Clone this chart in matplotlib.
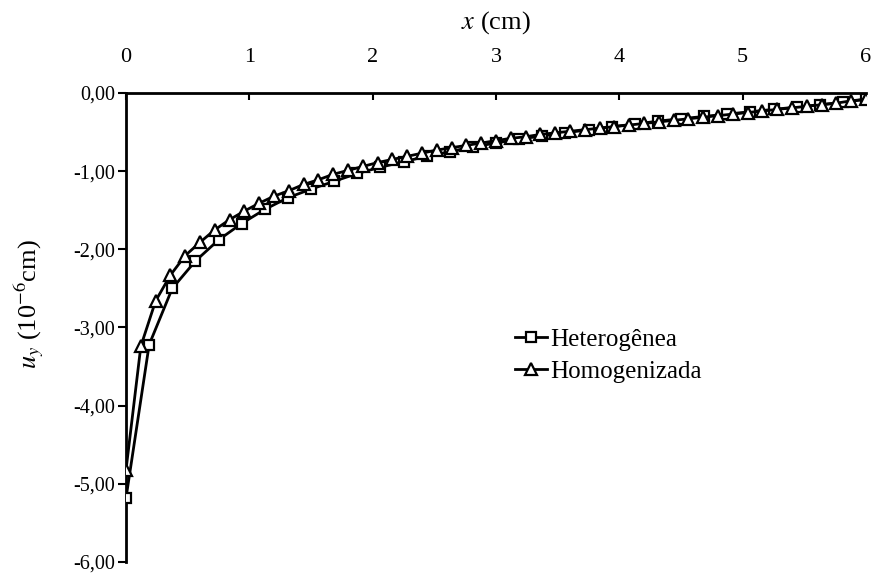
import matplotlib
matplotlib.use("Agg")
import matplotlib.pyplot as plt

plt.rcParams['font.family'] = ['Liberation Serif', 'DejaVu Serif']
plt.rcParams['mathtext.fontset'] = 'stix'

# Heterogênea (squares)
x_het = [0.0, 0.1875, 0.375, 0.5625, 0.75, 0.9375, 1.125, 1.3125, 1.5, 1.6875,
         1.875, 2.0625, 2.25, 2.4375, 2.625, 2.8125, 3.0, 3.1875, 3.375, 3.5625,
         3.75, 3.9375, 4.125, 4.3125, 4.5, 4.6875, 4.875, 5.0625, 5.25, 5.4375,
         5.625, 5.8125, 6.0]
y_het = [-5.18, -3.22, -2.50, -2.15, -1.88, -1.67, -1.49, -1.34, -1.23, -1.13,
         -1.03, -0.95, -0.88, -0.81, -0.75, -0.69, -0.64, -0.59, -0.55, -0.51,
         -0.47, -0.43, -0.40, -0.36, -0.33, -0.30, -0.27, -0.24, -0.21, -0.18,
         -0.15, -0.12, -0.08]

# Homogenizada (triangles)
x_hom = [0.0, 0.12, 0.24, 0.36, 0.48, 0.60, 0.72, 0.84, 0.96, 1.08,
         1.20, 1.32, 1.44, 1.56, 1.68, 1.80, 1.92, 2.04, 2.16, 2.28,
         2.40, 2.52, 2.64, 2.76, 2.88, 3.00, 3.12, 3.24, 3.36, 3.48,
         3.60, 3.72, 3.84, 3.96, 4.08, 4.20, 4.32, 4.44, 4.56, 4.68,
         4.80, 4.92, 5.04, 5.16, 5.28, 5.40, 5.52, 5.64, 5.76, 5.88, 6.00]
y_hom = [-4.82, -3.24, -2.66, -2.33, -2.08, -1.91, -1.75, -1.62, -1.51, -1.41,
         -1.32, -1.25, -1.17, -1.11, -1.04, -0.99, -0.94, -0.89, -0.85, -0.81,
         -0.77, -0.73, -0.70, -0.67, -0.64, -0.61, -0.58, -0.56, -0.53, -0.51,
         -0.49, -0.47, -0.45, -0.43, -0.41, -0.39, -0.37, -0.35, -0.33, -0.31,
         -0.29, -0.27, -0.25, -0.23, -0.21, -0.19, -0.17, -0.15, -0.13, -0.10, -0.08]

x_ticks = [0, 1, 2, 3, 4, 5, 6]
y_ticks = [0, -1, -2, -3, -4, -5, -6]
y_tick_labels = ['0,00', '-1,00', '-2,00', '-3,00', '-4,00', '-5,00', '-6,00']

fig = plt.figure(figsize=(8.77, 5.75), dpi=100)
ax = fig.add_axes([0.1437, 0.0226, 0.8438, 0.8157])

ax.plot(x_het, y_het, color='black', lw=2.0, marker='s', ms=7,
        mfc='white', mec='black', mew=1.6, label='Heterogênea', zorder=3)
ax.plot(x_hom, y_hom, color='black', lw=2.0, marker='^', ms=8,
        mfc='white', mec='black', mew=1.6, label='Homogenizada', zorder=3)

ax.set_xlim(0, 6)
ax.set_ylim(-6, 0)
ax.spines['right'].set_visible(False)
ax.spines['bottom'].set_visible(False)
ax.spines['top'].set_linewidth(2)
ax.spines['left'].set_linewidth(2)

ax.xaxis.set_ticks_position('top')
ax.xaxis.set_label_position('top')
ax.set_xticks(x_ticks)
ax.set_xticklabels([str(v) for v in x_ticks], fontsize=16)
ax.tick_params(axis='x', direction='in', length=5, width=1.5, pad=19)
ax.set_yticks(y_ticks)
ax.set_yticklabels(y_tick_labels, fontsize=14.5)
ax.tick_params(axis='y', direction='out', length=6, width=1.5, pad=2)

ax.set_xlabel(r'$x$ (cm)', fontsize=19, labelpad=14)
ax.set_ylabel(r'$u_y$ (10$^{-6}$cm)', fontsize=19)
ax.yaxis.set_label_coords(-0.108, 0.55)

leg = ax.legend(loc='upper left', bbox_to_anchor=(0.512, 0.52), frameon=False,
                fontsize=18, handlelength=1.3, handletextpad=0.1,
                borderaxespad=0, labelspacing=0.38)

fig.savefig('out.png', dpi=100)
